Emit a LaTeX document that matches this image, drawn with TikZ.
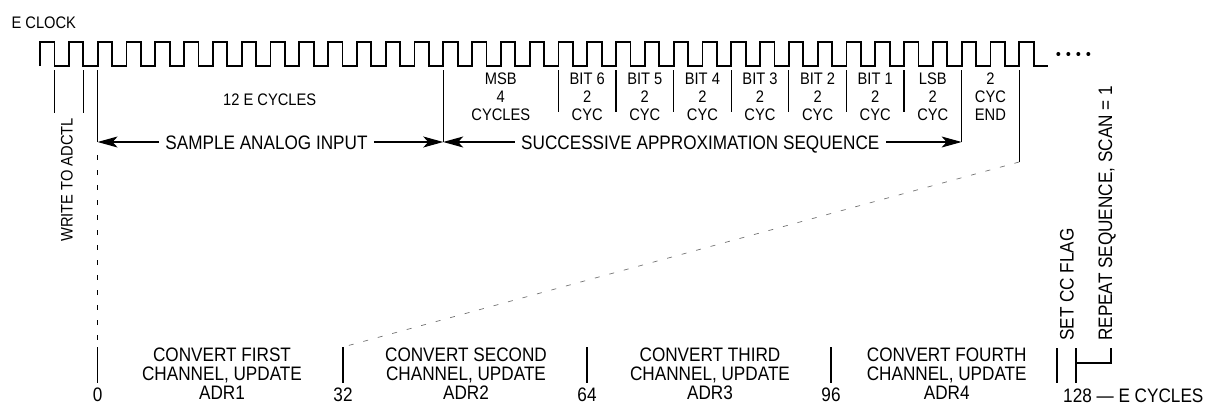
\documentclass[tikz,border=0pt]{standalone}
\usepackage{fontspec}
\setmainfont{Liberation Sans}[FakeStretch=0.88]
\usetikzlibrary{arrows.meta}
\tikzset{
  clk/.style={line width=1.8pt, line join=miter, line cap=butt},
  tickl/.style={line width=1.1pt},
  dashv/.style={line width=1pt, dash pattern=on 5pt off 10pt},
  diagl/.style={line width=0.7pt, black!55, dash pattern=on 5pt off 10pt},
  arr/.style={line width=1.1pt, -{Stealth[length=20pt,width=11pt,inset=5pt]}},
  big/.style={font=\fontsize{19.5}{19}\selectfont, inner sep=0pt, text height=14pt, text depth=0pt},
  sml/.style={font=\fontsize{16.7}{18}\selectfont, inner sep=0pt, text height=12pt, text depth=0pt},
  bigm/.style={font=\fontsize{19.5}{19}\selectfont, inner sep=0pt, align=center, anchor=north},
  smlm/.style={font=\fontsize{16.7}{18}\selectfont, inner sep=0pt, align=center, anchor=north},
}
\begin{document}
\begin{tikzpicture}[x=1pt,y=-1pt]
\useasboundingbox (0,0) rectangle (1206,404);

% clock
\node[sml] (eclk) at (43.8,22.5) {E CLOCK};
\draw[clk] (40,66) \foreach \k in {1,...,35} { -- ++(0,-24) -- ++(14.4,0) -- ++(0,24) -- ++(14.4,0) };
\foreach \x in {1058.3,1068.3,1078.3,1088.3} \fill (\x,54) circle (2pt);

% write to ADCTL
\coordinate (wa1) at (54.4,70); \coordinate (wa2) at (54.4,113);
\coordinate (wb1) at (83.2,70); \coordinate (wb2) at (83.2,113);
\draw[tickl] (wa1) -- (wa2);
\draw[tickl] (wb1) -- (wb2);
\node[sml, rotate=90, anchor=west] (wr) at (66.7,242) {WRITE TO ADCTL};

% sample analog input
\coordinate (s0top) at (97.6,70);
\coordinate (s0) at (97.6,142);
\coordinate (s0d1) at (97.6,155);
\coordinate (s0d2) at (97.6,340);
\draw[tickl] (s0top) -- (s0);
\draw[dashv] (s0d1) -- (s0d2);
\node[sml] (twelve) at (269.7,99.7) {12 E CYCLES};
\node[big, inner xsep=6pt] (sai) at (266.5,142) {SAMPLE ANALOG INPUT};
\coordinate (s12top) at (443.2,70);
\coordinate (s12) at (443.2,142);
\draw[tickl] (s12top) -- (s12);
\draw[arr] (sai.west) -- (s0);
\draw[arr] (sai.east) -- (s12);

% successive approximation
\foreach \x in {558.4,616,673.6,731.2,788.8,846.4,904} \draw[tickl] (\x,70) -- (\x,112);
\coordinate (lsbtop) at (961.6,70);
\coordinate (lsbend) at (961.6,142);
\draw[tickl] (lsbtop) -- (lsbend);
\node[big, inner xsep=6.5pt] (sas) at (700.3,142) {SUCCESSIVE APPROXIMATION SEQUENCE};
\draw[arr] (sas.west) -- (s12);
\draw[arr] (sas.east) -- (lsbend);

\node[smlm] (msb) at (500.8,73) {MSB\\4\\CYCLES};
\foreach \i/\x/\t in {6/587.2/BIT 6, 5/644.8/BIT 5, 4/702.4/BIT 4, 3/760/BIT 3, 2/817.6/BIT 2, 1/875.2/BIT 1, 0/932.8/LSB}
  \node[smlm] (bit\i) at (\x,73) {\t\\2\\CYC};
\node[smlm] (endl) at (990.4,73) {2\\CYC\\END};

% end line and diagonal
\coordinate (endtop) at (1019.2,70);
\coordinate (endbot) at (1019.2,162);
\draw[tickl] (endtop) -- (endbot);
\coordinate (t32top) at (343,347);
\draw[diagl] (endbot) -- (t32top);

% bottom scale
\coordinate (t0a) at (97.6,347); \coordinate (t0b) at (97.6,383);
\coordinate (t32b) at (343,383);
\coordinate (t64a) at (587,347); \coordinate (t64b) at (587,383);
\coordinate (t96a) at (831,347); \coordinate (t96b) at (831,383);
\coordinate (tccA) at (1057,348); \coordinate (tccB) at (1057,383);
\coordinate (t128a) at (1076,348); \coordinate (t128b) at (1076,383);
\coordinate (brk1) at (1076,363); \coordinate (brk2) at (1111,363); \coordinate (brk3) at (1111,348);
\draw[tickl] (t0a) -- (t0b);
\draw[tickl] (t32top) -- (t32b);
\draw[tickl] (t64a) -- (t64b);
\draw[tickl] (t96a) -- (t96b);
\draw[tickl] (tccA) -- (tccB);
\draw[tickl] (t128a) -- (t128b);
\draw[tickl] (brk1) -- (brk2) -- (brk3);

\node[big] (n0) at (97.6,394.5) {0};
\node[big] (n32) at (343,394.5) {32};
\node[big] (n64) at (587,394.5) {64};
\node[big] (n96) at (831,394.5) {96};
\node[big, anchor=west] (n128) at (1063,395) {128 — E CYCLES};

\node[bigm] (c1) at (222,348) {CONVERT FIRST\\CHANNEL, UPDATE\\ADR1};
\node[bigm] (c2) at (466,348) {CONVERT SECOND\\CHANNEL, UPDATE\\ADR2};
\node[bigm] (c3) at (710,348) {CONVERT THIRD\\CHANNEL, UPDATE\\ADR3};
\node[bigm] (c4) at (946.7,348) {CONVERT FOURTH\\CHANNEL, UPDATE\\ADR4};

\node[big, rotate=90, anchor=west] (setcc) at (1066.7,341) {SET CC FLAG};
\node[big, rotate=90, anchor=west] (rep) at (1105,341) {REPEAT SEQUENCE, SCAN = 1};
\end{tikzpicture}
\end{document}
